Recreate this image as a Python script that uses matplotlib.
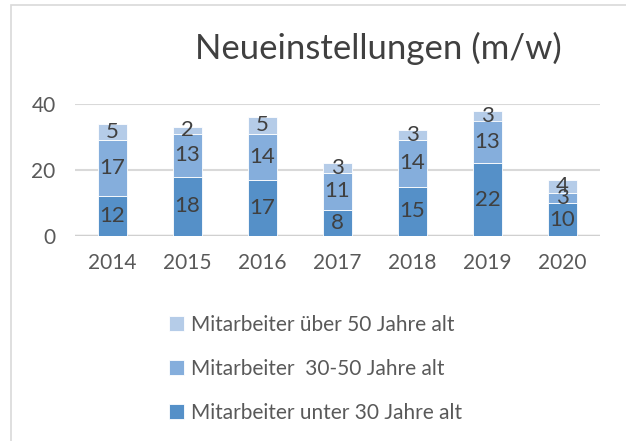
import matplotlib.pyplot as plt
from matplotlib.patches import Rectangle

plt.rcParams['font.family'] = ['Lato', 'DejaVu Sans']

years = ["2014", "2015", "2016", "2017", "2018", "2019", "2020"]
unter_30 = [12, 18, 17, 8, 15, 22, 10]
von_30_50 = [17, 13, 14, 11, 14, 13, 3]
ueber_50 = [5, 2, 5, 3, 3, 3, 4]
series_names = ["Mitarbeiter unter 30 Jahre alt",
                "Mitarbeiter  30-50 Jahre alt",
                "Mitarbeiter über 50 Jahre alt"]
colors = ["#5590C8", "#85AEDC", "#B5CCE8"]

fig = plt.figure(figsize=(6.26, 4.41), dpi=100)
ax = fig.add_axes([75 / 626, 1 - 236 / 441, 525 / 626, 132 / 441])

# light frame round the chart
fig.patches.append(Rectangle((11 / 626, -0.02), 1.0, 1 - 5 / 441 + 0.02,
                             transform=fig.transFigure, fill=False,
                             edgecolor="#D9D9D9", linewidth=1.2))

x = range(len(years))
bottom = [0] * len(years)
bars = []
for vals, col in zip([unter_30, von_30_50, ueber_50], colors):
    b = ax.bar(x, vals, width=0.39, bottom=bottom, color=col,
               edgecolor="white", linewidth=0.6, zorder=3)
    bars.append(b)
    ax.bar_label(b, labels=[str(v) for v in vals], label_type="center",
                 fontsize=16, color="#404040", zorder=4)
    bottom = [a + v for a, v in zip(bottom, vals)]

ax.set_ylim(0, 40)
ax.set_xlim(-0.5, len(years) - 0.5)
ax.set_yticks([0, 20, 40])
ax.set_xticks(list(x))
ax.set_xticklabels(years)
ax.tick_params(axis="both", length=0, labelsize=15, colors="#595959")
ax.tick_params(axis="x", pad=12)
ax.tick_params(axis="y", pad=14)
ax.grid(axis="y", color="#D9D9D9", linewidth=1.5, zorder=0)
for s in ax.spines.values():
    s.set_visible(False)
ax.axhline(0, color="#D0D0D0", linewidth=2.5, zorder=2)

fig.text(378 / 626, 1 - 48 / 441, "Neueinstellungen (m/w)", ha="center",
         va="center", fontsize=25, color="#404040")

fig.legend(bars[::-1], series_names[::-1], loc="upper left",
           bbox_to_anchor=(150 / 626, 1 - 296 / 441), frameon=False,
           handlelength=0.75, handleheight=0.75, handletextpad=0.3,
           labelspacing=1.15, fontsize=15, labelcolor="#595959")

fig.savefig("out.png", dpi=100)
